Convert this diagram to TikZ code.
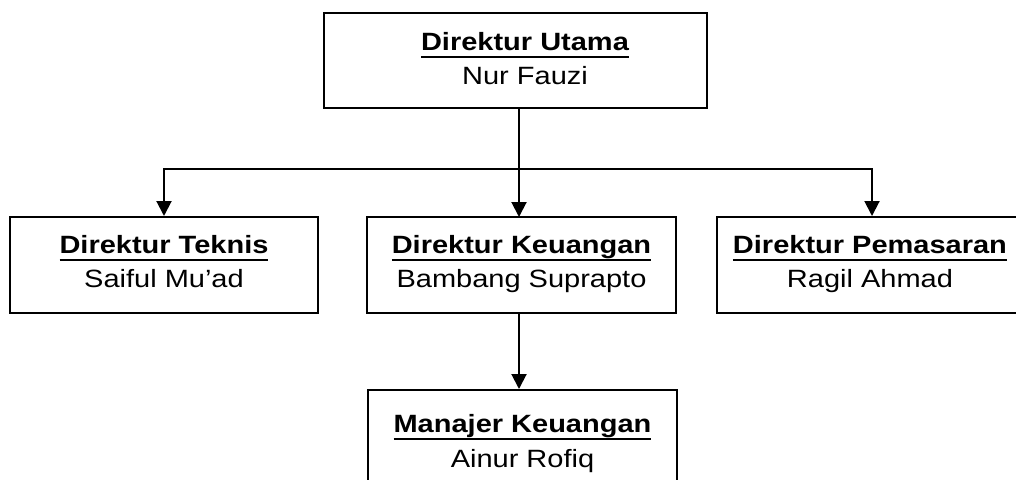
\documentclass[tikz,border=0pt]{standalone}
\usepackage{fontspec}
\setmainfont{Liberation Sans}[FakeStretch=1.16]
\usetikzlibrary{arrows.meta}
\newcommand\myul[1]{\setbox0\hbox{#1}\rlap{\rule[-8pt]{\wd0}{2pt}}\box0}
\begin{document}
\begin{tikzpicture}[x=1pt,y=-1pt,
  box/.style={draw, line width=2pt, inner sep=0pt, minimum height=96pt},
  ttl/.style={font=\fontsize{25}{30}\selectfont\bfseries, inner sep=0pt, anchor=base},
  nm/.style={font=\fontsize{25}{30}\selectfont, inner sep=0pt, anchor=base},
  conn/.style={line width=2pt},
  arr/.style={line width=2pt, -{Triangle[width=15pt,length=15pt]}}]
\useasboundingbox (0,0) rectangle (1016,479);
\clip (0,0) rectangle (1016,479);
% boxes
\node[box, minimum width=383pt, minimum height=95pt] (du) at (515.5,60.5) {};
\node[box, minimum width=308pt] (dt) at (164,265) {};
\node[box, minimum width=309pt] (dk) at (521.5,265) {};
\node[box, minimum width=310pt] (dp) at (872,265) {};
\node[box, minimum width=309pt] (mk) at (522.5,438) {};
% texts
\node[ttl] (dut) at (525,50) {\myul{Direktur Utama}};
\node[nm]  (dun) at (525,84) {Nur Fauzi};
\node[ttl] (dtt) at (164,253) {\myul{Direktur Teknis}};
\node[nm]  (dtn) at (164,287) {Saiful Mu’ad};
\node[ttl] (dkt) at (521.5,253) {\myul{Direktur Keuangan}};
\node[nm]  (dkn) at (521.5,287) {Bambang Suprapto};
\node[ttl] (dpt) at (870,253) {\myul{Direktur Pemasaran}};
\node[nm]  (dpn) at (870,287) {Ragil Ahmad};
\node[ttl] (mkt) at (522.5,432) {\myul{Manajer Keuangan}};
\node[nm]  (mkn) at (522.5,467) {Ainur Rofiq};
% connectors
\coordinate (hl) at (519,169);
\coordinate (stem) at (519,217);
\draw[arr] (du.south -| stem) -- (stem);
\draw[arr] (hl) -| (dt.north);
\draw[arr] (hl) -| (dp.north);
\draw[arr] (dk.south -| stem) -- (mk.north -| stem);
\end{tikzpicture}
\end{document}
